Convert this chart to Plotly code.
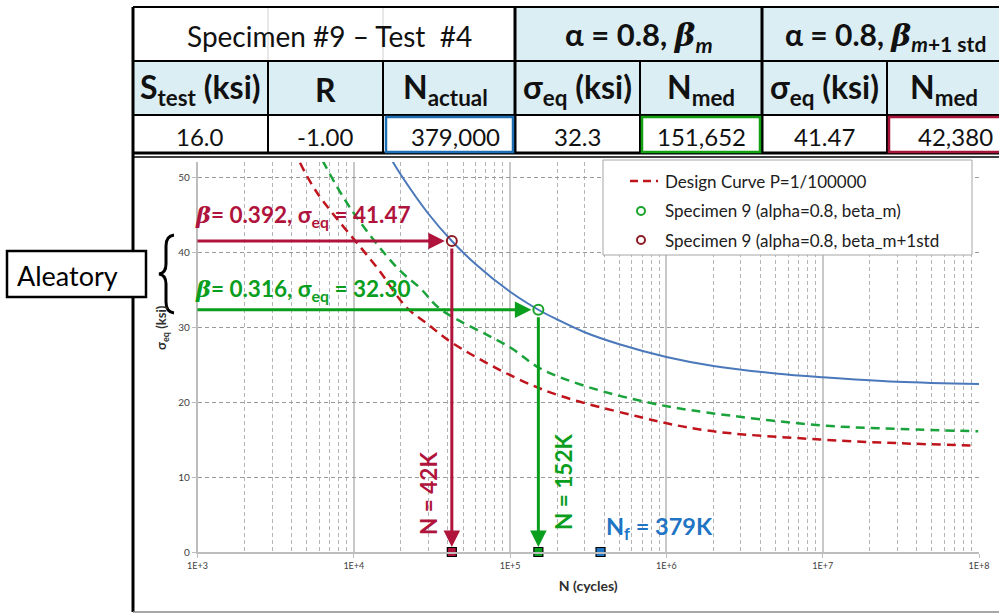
import numpy as np
import plotly.graph_objects as go

# ---- specimen / test data ----
S_test = 16.0
R_ratio = -1.00
N_actual = 379000

sigma_eq_m = 32.3        # alpha = 0.8, beta_m
N_med_m = 151652
beta_m = 0.316

sigma_eq_1std = 41.47    # alpha = 0.8, beta_m + 1 std
N_med_1std = 42380
beta_1std = 0.392

# ---- S-N curves (N in cycles, sigma_eq in ksi) ----
median_N = [1.7e4, 2e4, 3e4, 42380, 6e4, 1e5, 151652, 2e5, 3e5, 5e5, 1e6, 2e6, 5e6, 1e7, 3e7, 1e8]
median_S = [52.7, 50.3, 45.1, 41.47, 38.4, 34.7, 32.3, 31.0, 29.3, 27.7, 26.0, 24.8, 23.8, 23.3, 22.7, 22.4]

beta_m_logN = [3.80, 3.976, 4.277, 4.424, 4.553, 4.999, 5.191, 5.5, 5.914, 6.259, 6.983, 7.5, 7.995]
beta_m_S = [52.2, 45.9, 37.9, 35.2, 32.4, 27.3, 24.5, 22.0, 19.8, 18.6, 16.9, 16.4, 16.1]

design_logN = [3.656, 3.765, 4.149, 4.338, 4.466, 4.636, 5.191, 5.831, 6.259, 6.983, 7.5, 7.945]
design_S = [51.9, 47.9, 37.9, 32.6, 30.5, 27.8, 21.8, 18.0, 16.2, 15.0, 14.5, 14.2]

legend_labels = ["Design Curve P=1/100000",
                 "Specimen 9 (alpha=0.8, beta_m)",
                 "Specimen 9 (alpha=0.8, beta_m+1std"]

x_tick_vals = [1e3, 1e4, 1e5, 1e6, 1e7, 1e8]
x_tick_text = ["1E+3", "1E+4", "1E+5", "1E+6", "1E+7", "1E+8"]

W, H = 999, 615
FONT = "Lato"
RED = "#b0143c"
GREEN = "#0a9e1e"
BLUE = "#1f74c4"
DESIGN_RED = "#c0141c"
MARK_GREEN = "#1aa32a"
MARK_RED = "#8e1c24"
TABLE_BLUE = "#dbeef4"
DASH = "9px,6px"


def px(x):
    return x / W


def py(y):
    return 1 - y / H


fig = go.Figure()

fig.add_trace(go.Scatter(x=median_N, y=median_S, mode="lines", showlegend=False,
                         line=dict(color="#4a78bb", width=2, shape="spline"), hoverinfo="skip"))
fig.add_trace(go.Scatter(x=[10 ** v for v in beta_m_logN], y=beta_m_S, mode="lines", showlegend=False,
                         line=dict(color="#1aa33a", width=2.5, dash=DASH, shape="spline"),
                         hoverinfo="skip"))
fig.add_trace(go.Scatter(x=[10 ** v for v in design_logN], y=design_S, mode="lines",
                         name=legend_labels[0], showlegend=False,
                         line=dict(color=DESIGN_RED, width=2.5, dash=DASH, shape="spline")))
fig.add_trace(go.Scatter(x=[N_med_m], y=[sigma_eq_m], mode="markers",
                         name=legend_labels[1], showlegend=False,
                         marker=dict(symbol="circle-open", size=10, color=MARK_GREEN, line=dict(width=2))))
fig.add_trace(go.Scatter(x=[N_med_1std], y=[sigma_eq_1std], mode="markers",
                         name=legend_labels[2], showlegend=False,
                         marker=dict(symbol="circle-open", size=10, color=MARK_RED, line=dict(width=2))))

# cycle markers on the N axis
for n, col in [(N_med_1std, RED), (N_med_m, GREEN), (N_actual, BLUE)]:
    fig.add_trace(go.Scatter(x=[n], y=[0], mode="markers", showlegend=False, cliponaxis=False,
                             marker=dict(symbol="square", size=9, color=col,
                                         line=dict(color="black", width=1.2))))

minor_vals = [k * 10 ** d for d in range(3, 8) for k in range(2, 10)]

fig.update_layout(
    width=W, height=H, autosize=False,
    margin=dict(l=0, r=0, t=0, b=0),
    paper_bgcolor="white", plot_bgcolor="white",
    font=dict(family=FONT, color="#404040"),
    showlegend=False,
    xaxis=dict(type="log", range=[3, 8], domain=[px(197.5), px(979)], automargin=False,
               tickvals=x_tick_vals, ticktext=x_tick_text,
               tickfont=dict(size=9, color="#404040"),
               showgrid=True, gridcolor="#c8c8c8", gridwidth=1.5,
               minor=dict(tickvals=minor_vals, showgrid=True, gridcolor="#b4b4b4",
                          griddash="4px,3px", gridwidth=1),
               showline=True, linecolor="#bdbdbd", linewidth=1.5,
               ticks="outside", ticklen=4, tickcolor="#bdbdbd",
               title=dict(text="<b>N (cycles)</b>", font=dict(size=14, color="#303030"), standoff=12),
               zeroline=False),
    yaxis=dict(range=[0, 52], domain=[py(552), py(162)], automargin=False,
               tickvals=[0, 10, 20, 30, 40, 50],
               tickfont=dict(size=10, color="#404040"),
               showgrid=True, gridcolor="#9a9a9a", griddash="4px,3px", gridwidth=1,
               showline=True, linecolor="#bdbdbd", linewidth=1.5,
               ticks="outside", ticklen=4, tickcolor="#bdbdbd",
               zeroline=False),
)

ann = []
shapes = []


def rect(x0, y0, x1, y1, fill=None, line_col=None, lw=0):
    shapes.append(dict(type="rect", xref="paper", yref="paper", x0=px(x0), x1=px(x1), y0=py(y1), y1=py(y0),
                       fillcolor=fill if fill else "rgba(0,0,0,0)",
                       line=dict(color=line_col if line_col else "rgba(0,0,0,0)", width=lw)))


def line(x0, y0, x1, y1, col="black", lw=2, dash=None):
    shapes.append(dict(type="line", xref="paper", yref="paper", x0=px(x0), x1=px(x1), y0=py(y0), y1=py(y1),
                       line=dict(color=col, width=lw, dash=dash)))


def text(x, y, txt, size, color, xanchor="center", angle=0, family=FONT):
    ann.append(dict(x=px(x), y=py(y), xref="paper", yref="paper", showarrow=False,
                    xanchor=xanchor, yanchor="middle", textangle=angle,
                    font=dict(family=family, size=size, color=color), text=txt))


# y-axis title
text(162, 328, "<b>σ<sub>eq</sub> (ksi)</b>", 13, "#303030", angle=-90)

# ---- arrows on the chart ----
def harrow(n, s, col):
    ann.append(dict(x=np.log10(n), y=s, xref="x", yref="y", ax=2.99, ay=s, axref="x", ayref="y",
                    showarrow=True, arrowhead=2, arrowsize=1.1, arrowwidth=3, arrowcolor=col,
                    standoff=7, text=""))


def varrow(n, s, col):
    ann.append(dict(x=np.log10(n), y=0, xref="x", yref="y", ax=np.log10(n), ay=s, axref="x", ayref="y",
                    showarrow=True, arrowhead=2, arrowsize=1.1, arrowwidth=3, arrowcolor=col,
                    standoff=5, startstandoff=6, text=""))


harrow(N_med_1std, sigma_eq_1std, RED)
harrow(N_med_m, sigma_eq_m, GREEN)
varrow(N_med_1std, sigma_eq_1std, RED)
varrow(N_med_m, sigma_eq_m, GREEN)

BETA = "<span style='font-family:DejaVu Serif'><i>β</i></span>"
text(193, 216, f"<b>{BETA}= {beta_1std:.3f}, σ<sub>eq</sub> = {sigma_eq_1std:.2f}</b>", 22.5, RED,
     xanchor="left")
text(193, 290, f"<b>{BETA}= {beta_m:.3f}, σ<sub>eq</sub> = {sigma_eq_m:.2f}</b>", 22.5, GREEN,
     xanchor="left")
text(428, 494, f"<b>N = {round(N_med_1std / 1000)}K</b>", 22.5, RED, angle=-90)
text(563, 482, f"<b>N = {round(N_med_m / 1000)}K</b>", 22.5, GREEN, angle=-90)
text(604, 528, f"<b>N<sub>f</sub> = {round(N_actual / 1000)}K</b>", 23.5, BLUE, xanchor="left")

# ---- legend box ----
rect(603, 160, 972, 255, fill="white", line_col="#a6a6a6", lw=1)
legend_y = [181, 211, 240]
line(630, legend_y[0], 658, legend_y[0], col=DESIGN_RED, lw=2.5, dash="8px,5px")
for yy, col in [(legend_y[1], MARK_GREEN), (legend_y[2], MARK_RED)]:
    shapes.append(dict(type="circle", xref="paper", yref="paper",
                       x0=px(637), x1=px(645), y0=py(yy + 4), y1=py(yy - 4),
                       line=dict(color=col, width=2), fillcolor="rgba(0,0,0,0)"))
for yy, lab in zip(legend_y, legend_labels):
    text(663, yy, lab, 17, "#202020", xanchor="left")

# ---- Aleatory call-out ----
text(67, 275, "Aleatory", 27, "black")

# ---- table ----
rect(515, 7, 1010, 61, fill=TABLE_BLUE)
rect(133, 61, 1010, 115, fill=TABLE_BLUE)

line(268, 7, 268, 61, col="#d0d0d0", lw=1)
line(383, 7, 383, 61, col="#d0d0d0", lw=1)
for yy in (7, 61, 115):
    line(133, yy, 1010, yy, lw=2)
line(133, 153, 1010, 153, lw=3)
line(133, 157, 1010, 157, lw=1.5)
for xx in [268, 383, 640, 887]:
    line(xx, 61, xx, 154, lw=2)
for xx in [515, 762]:
    line(xx, 7, xx, 154, lw=3)

# highlighted value cells
rect(386, 117, 513, 152, line_col="#1f6fb5", lw=2.5)
rect(642, 117, 760, 152, line_col="#13a013", lw=2.5)
rect(889, 117, 1010, 152, line_col="#a8153a", lw=2.5)

# outer frame of the chart
line(133, 7, 133, 612, lw=3)
line(133, 612, 1010, 612, col="#8a8a8a", lw=1.5)

# aleatory box and brace
rect(7, 251, 146, 297, fill="white", line_col="black", lw=2.5)
bx = [px(v) for v in (174, 166, 159)]
brace = (f"M {bx[0]},{py(235)} Q {bx[1]},{py(236)} {bx[1]},{py(246)} "
         f"L {bx[1]},{py(264)} Q {bx[1]},{py(273)} {bx[2]},{py(274)} "
         f"Q {bx[1]},{py(275)} {bx[1]},{py(284)} "
         f"L {bx[1]},{py(302)} Q {bx[1]},{py(312)} {bx[0]},{py(313)}")
shapes.append(dict(type="path", xref="paper", yref="paper", path=brace, line=dict(color="black", width=3)))

INK = "#111111"
text(329, 36, "Specimen #9 – Test  #4", 28, INK)
BETA_T = "<span style='font-family:DejaVu Serif'><i>β</i></span>"
text(639, 36, f"<b>α = 0.8, {BETA_T}<sub><i>m</i></sub></b>", 31, INK)
text(885, 36, f"<b>α = 0.8, {BETA_T}<sub><i>m</i>+1 std</sub></b>", 30, INK)

hdr = ["S<sub>test</sub> (ksi)", "R", "N<sub>actual</sub>", "σ<sub>eq</sub> (ksi)", "N<sub>med</sub>",
       "σ<sub>eq</sub> (ksi)", "N<sub>med</sub>"]
hdr_x = [200, 325, 445, 577, 701, 824, 944]
for x, t in zip(hdr_x, hdr):
    text(x, 89, f"<b>{t}</b>", 32, INK)

vals = [f"{S_test:.1f}", f"{R_ratio:.2f}", f"{N_actual:,}", f"{sigma_eq_m:.1f}", f"{N_med_m:,}",
        f"{sigma_eq_1std:.2f}", f"{N_med_1std:,}"]
val_x = [200, 325, 455, 577, 701, 824, 955]
for x, t in zip(val_x, vals):
    text(x, 136, t, 24, INK)

fig.update_layout(annotations=ann, shapes=shapes)

fig.write_html("out.html")
